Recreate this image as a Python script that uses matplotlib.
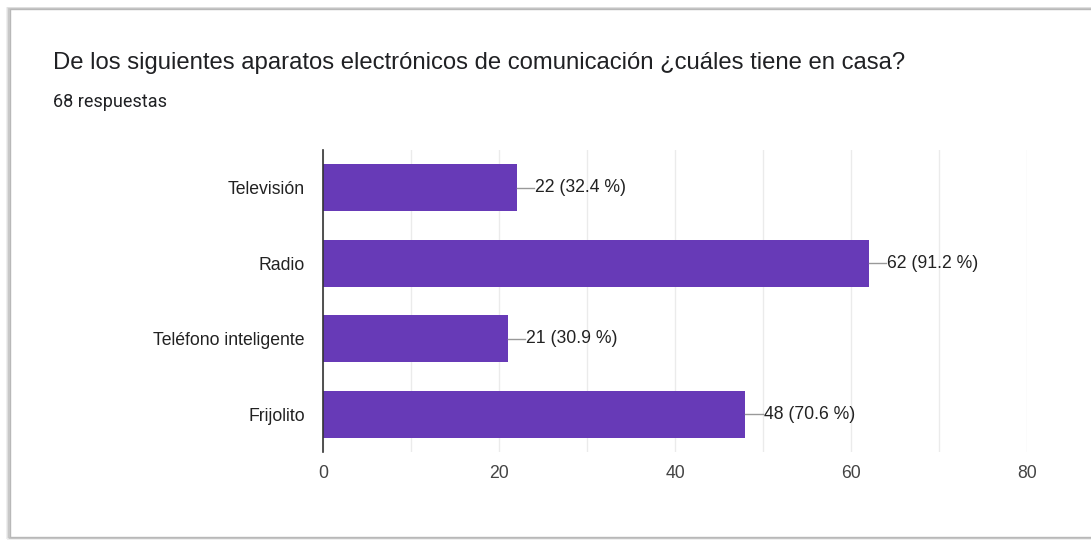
import matplotlib.pyplot as plt
from matplotlib.patches import Rectangle

plt.rcParams['font.family'] = ['Liberation Sans', 'DejaVu Sans']

categorias = ["Televisión", "Radio", "Teléfono inteligente", "Frijolito"]
respuestas = [22, 62, 21, 48]
total = 68
titulo = "De los siguientes aparatos electrónicos de comunicación ¿cuáles tiene en casa?"
subtitulo = f"{total} respuestas"
xticks = [0, 20, 40, 60, 80]

W, H = 1091, 541
fig = plt.figure(figsize=(W / 100, H / 100), dpi=100)
fig.patch.set_facecolor("white")

# card frame with soft shadow
for off, col in [(3, "#ececec"), (2, "#dcdcdc"), (1, "#c4c4c4")]:
    fig.add_artist(Rectangle((10 - off, 4 - off / 2), W + 20, H - 13 + off, transform=None,
                             fill=False, edgecolor=col, lw=1.2, zorder=0))
fig.add_artist(Rectangle((10, 4), W + 20, H - 13, transform=None,
                         facecolor="white", edgecolor="#b8b8b8", lw=1.0, zorder=0))

fig.text(53 / W, 1 - 63 / H, titulo, fontsize=17.2, color="#202124", va="center", ha="left")
fig.text(53 / W, 1 - 102 / H, subtitulo, fontsize=13, color="#202124", va="center", ha="left",
         family=["Roboto", "DejaVu Sans"])

ax = fig.add_axes([323 / W, 1 - 452 / H, (1027 - 323) / W, (452 - 150) / H])
y = list(range(len(categorias)))
ax.barh(y, respuestas, height=0.62, color="#673AB7", zorder=3)
ax.set_ylim(len(categorias) - 0.5, -0.5)
ax.set_xlim(0, 80)

ax.set_xticks(xticks)
ax.set_xticks(range(0, 81, 10), minor=True)
ax.grid(True, axis="x", which="both", color="#ebebeb", lw=1, zorder=0)
ax.set_yticks(y)
ax.set_yticklabels(categorias, fontsize=12.7, color="#222222")
ax.tick_params(axis="y", length=0, pad=13)
ax.tick_params(axis="x", which="both", length=0, pad=9, labelsize=12.7, labelcolor="#444444")

for s in ["top", "right", "bottom"]:
    ax.spines[s].set_visible(False)
ax.spines["left"].set_color("#333333")
ax.spines["left"].set_linewidth(1.2)
ax.spines["left"].set_zorder(4)

for yi, v in zip(y, respuestas):
    pct = v / total * 100
    ax.plot([v, v + 2.0], [yi, yi], color="#999999", lw=1, zorder=4, clip_on=False)
    ax.text(v + 2.1, yi, f"{v} ({pct:.1f} %)", fontsize=12.7, color="#222222",
            va="center", ha="left", zorder=5)

fig.savefig("out.png", dpi=100)
